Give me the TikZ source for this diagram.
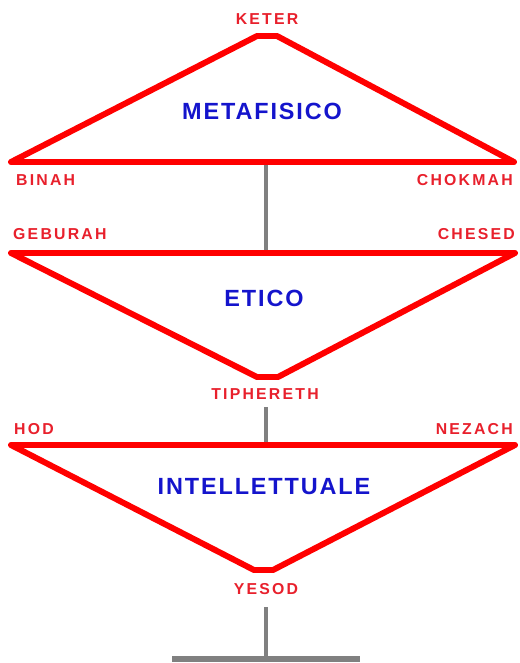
\documentclass[tikz,border=0pt]{standalone}
\usepackage{fontspec}
\setmainfont{Liberation Sans}
\definecolor{SefRed}{HTML}{FF0000}
\definecolor{SefLabel}{HTML}{E8202C}
\definecolor{SefBlue}{HTML}{1414CC}
\definecolor{SefGrey}{HTML}{808080}
\tikzset{
  triangolo/.style={draw=SefRed,line width=5.1pt,line join=round},
  tronco/.style={draw=SefGrey,line width=3.4pt},
  sefira/.style={text=SefLabel,inner sep=0pt,
    font=\fontsize{13.5}{14}\selectfont\bfseries\addfontfeature{LetterSpace=14}},
  piano/.style={text=SefBlue,inner sep=0pt,
    font=\fontsize{20}{22}\selectfont\bfseries\addfontfeature{LetterSpace=8}}
}

\begin{document}
\begin{tikzpicture}[x=0.03cm,y=-0.03cm]
\path[use as bounding box] (0,0) rectangle (519,663);
% vertici dei triangoli
\coordinate (keterL) at (257,36);
\coordinate (keterR) at (277,36);
\coordinate (binah) at (11,162);
\coordinate (chokmah) at (514,162);
\coordinate (geburah) at (11,253);
\coordinate (chesed) at (515,253);
\coordinate (tipherethL) at (257,377);
\coordinate (tipherethR) at (278,377);
\coordinate (hod) at (11,445);
\coordinate (nezach) at (515,445);
\coordinate (yesodL) at (254,570);
\coordinate (yesodR) at (273,570);
% tronco grigio
\coordinate (asse1a) at (266,164);
\coordinate (asse1b) at (266,250);
\coordinate (asse2a) at (266,407);
\coordinate (asse2b) at (266,442);
\coordinate (asse3a) at (266,607);
\coordinate (asse3b) at (266,659);
\coordinate (baseL) at (172,659);
\coordinate (baseR) at (360,659);
\draw[tronco] (asse1a) -- (asse1b);
\draw[tronco] (asse2a) -- (asse2b);
\draw[tronco] (asse3a) -- (asse3b);
\draw[tronco,line width=5pt] (baseL) -- (baseR);
% triangoli
\draw[triangolo] (keterL) -- (keterR) -- (chokmah) -- (binah) -- cycle;
\draw[triangolo] (geburah) -- (chesed) -- (tipherethR) -- (tipherethL) -- cycle;
\draw[triangolo] (hod) -- (nezach) -- (yesodR) -- (yesodL) -- cycle;
% piani
\node[piano] (metafisico) at (262,111) {METAFISICO};
\node[piano] (etico) at (264,298) {ETICO};
\node[piano] (intellettuale) at (264,487) {INTELLETTUALE};
% sefirot
\node[sefira] (keterlbl) at (267,19) {KETER};
\node[sefira,anchor=west] (binahlbl) at (16,180) {BINAH};
\node[sefira,anchor=east] (chokmahlbl) at (513,180) {CHOKMAH};
\node[sefira,anchor=west] (geburahlbl) at (13,234) {GEBURAH};
\node[sefira,anchor=east] (chesedlbl) at (515,234) {CHESED};
\node[sefira] (tipherethlbl) at (265,394) {TIPHERETH};
\node[sefira,anchor=west] (hodlbl) at (14,429) {HOD};
\node[sefira,anchor=east] (nezachlbl) at (513,429) {NEZACH};
\node[sefira] (yesodlbl) at (266,589) {YESOD};
\end{tikzpicture}
\end{document}
